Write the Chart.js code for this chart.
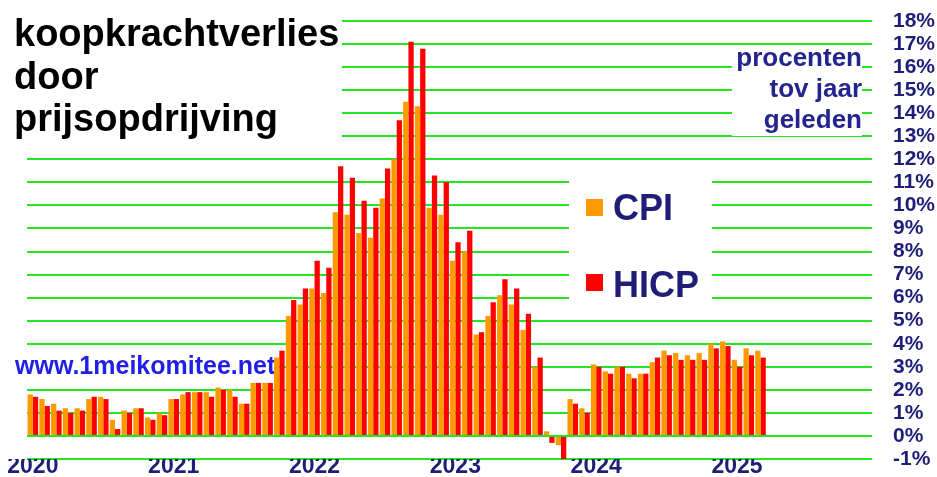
<!DOCTYPE html>
<html>
<head>
<meta charset="utf-8">
<script src="https://cdn.jsdelivr.net/npm/chart.js@4.4.1/dist/chart.umd.min.js"></script>
<style>
  html, body { margin: 0; padding: 0; background: #fff; }
  #wrap { width: 937px; height: 477px; }
</style>
</head>
<body>
<div id="wrap"><canvas id="chart" width="937" height="477"></canvas></div>
<script>
// Data: year-on-year inflation, monthly from jan 2020 to mar 2025
const years = ['2020', '2021', '2022', '2023', '2024', '2025'];
const cpi = [
  1.8, 1.6, 1.4, 1.2, 1.2, 1.6, 1.7, 0.7, 1.1, 1.2, 0.8, 1.0,   // 2020
  1.6, 1.8, 1.9, 1.9, 2.1, 2.0, 1.4, 2.3, 2.3, 3.4, 5.2, 5.7,   // 2021
  6.4, 6.2, 9.7, 9.6, 8.8, 8.6, 10.3, 12.0, 14.5, 14.3, 9.9, 9.6, // 2022
  7.6, 8.0, 4.4, 5.2, 6.1, 5.7, 4.6, 3.0, 0.2, -0.4, 1.6, 1.2,  // 2023
  3.1, 2.8, 3.0, 2.7, 2.7, 3.2, 3.7, 3.6, 3.5, 3.6, 4.0, 4.1,   // 2024
  3.3, 3.8, 3.7                                                 // 2025
];
const hicp = [
  1.7, 1.3, 1.1, 1.0, 1.1, 1.7, 1.6, 0.3, 1.0, 1.2, 0.7, 0.9,
  1.6, 1.9, 1.9, 1.7, 2.0, 1.7, 1.4, 2.3, 2.3, 3.7, 5.9, 6.4,
  7.6, 7.3, 11.7, 11.2, 10.2, 9.9, 11.6, 13.7, 17.1, 16.8, 11.3, 11.0,
  8.4, 8.9, 4.5, 5.8, 6.8, 6.4, 5.3, 3.4, -0.3, -1.0, 1.4, 1.0,
  3.0, 2.7, 3.0, 2.5, 2.7, 3.4, 3.5, 3.3, 3.3, 3.3, 3.8, 3.9,
  3.0, 3.5, 3.4
];
const seriesNames = ['CPI', 'HICP'];
const seriesColors = ['#ff9900', '#ff0000'];
const yMin = -1, yMax = 18;
const titleLines = ['koopkrachtverlies', 'door', 'prijsopdrijving'];
const noteLines = ['procenten', 'tov jaar', 'geleden'];
const siteName = 'www.1meikomitee.net';

const FONT = "'Liberation Sans', Arial, sans-serif";
const NAVY = '#1e1e78';
const GREEN = '#22e622';

// one category per month, only january gets the year
const labels = [];
years.forEach(y => {
    for (let m = 0; m < 12; m++) labels.push(m === 0 ? y : '');
});

// white boxes behind the texts hide the grid lines, then the texts
const overlay = {
    id: 'overlay',
    beforeDatasetsDraw(chart) {
        const ctx = chart.ctx;
        ctx.save();
        ctx.fillStyle = '#fff';
        ctx.fillRect(0, 0, 342, 148);
        ctx.fillRect(27, 355, 247, 24);
        ctx.fillRect(732, 48, 130, 88);
        ctx.fillRect(569, 172, 143, 136);

        ctx.textBaseline = 'alphabetic';
        ctx.fillStyle = '#000';
        ctx.font = 'bold 38px ' + FONT;
        ctx.textAlign = 'left';
        [46, 89, 131].forEach((y, i) => ctx.fillText(titleLines[i], 14, y));

        ctx.fillStyle = '#1f1fe6';
        ctx.font = 'bold 25px ' + FONT;
        ctx.fillText(siteName, 15, 374);

        ctx.fillStyle = '#24248e';
        ctx.font = 'bold 26px ' + FONT;
        ctx.textAlign = 'right';
        [66, 97, 128].forEach((y, i) => ctx.fillText(noteLines[i], 862, y));

        // legend
        ctx.textAlign = 'left';
        ctx.font = 'bold 36px ' + FONT;
        [[199, 220], [274, 297]].forEach(([sq, base], i) => {
            ctx.fillStyle = seriesColors[i];
            ctx.fillRect(586, sq, 17, 17);
            ctx.fillStyle = NAVY;
            ctx.fillText(seriesNames[i], 613, base);
        });
        ctx.restore();
    }
};

new Chart(document.getElementById('chart'), {
    type: 'bar',
    data: {
        labels: labels,
        datasets: [
            { label: seriesNames[0], data: cpi, backgroundColor: seriesColors[0] },
            { label: seriesNames[1], data: hicp, backgroundColor: seriesColors[1] }
        ]
    },
    options: {
        responsive: false,
        animation: false,
        devicePixelRatio: 1,
        categoryPercentage: 0.9,
        barPercentage: 1.0,
        layout: { padding: { left: 27, top: 21, right: 0, bottom: 0 } },
        scales: {
            x: {
                grid: { display: false },
                border: { display: false },
                ticks: {
                    autoSkip: false,
                    maxRotation: 0,
                    padding: -14,
                    color: NAVY,
                    font: { family: FONT, size: 23, weight: 'bold' }
                },
                afterFit: s => {
                    s.height = 18;
                    s.paddingLeft = 0;
                    s.paddingRight = 0;
                }
            },
            y: {
                position: 'right',
                min: yMin,
                max: yMax,
                grid: { color: GREEN, lineWidth: 2, drawTicks: false },
                border: { display: false },
                ticks: {
                    stepSize: 1,
                    autoSkip: false,
                    padding: 21,
                    color: NAVY,
                    font: { family: FONT, size: 21, weight: 'bold' },
                    callback: v => v + '%'
                },
                afterFit: s => {
                    s.width = 65;
                    s.paddingTop = 0;
                    s.paddingBottom = 0;
                }
            }
        },
        plugins: {
            legend: { display: false },
            tooltip: { enabled: false }
        }
    },
    plugins: [overlay]
});
</script>
</body>
</html>
